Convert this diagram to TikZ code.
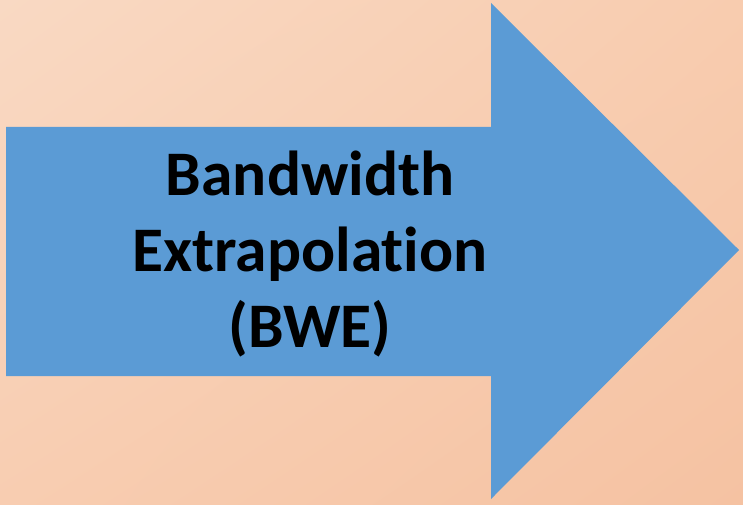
\documentclass[tikz,border=0pt]{standalone}
\usepackage{fontspec}
\setmainfont{Carlito}[Ligatures={NoCommon,NoRequired}]
\usetikzlibrary{shadings}
\definecolor{arrowblue}{HTML}{5B9BD5}
\definecolor{bgUL}{HTML}{F9D9C3}
\definecolor{bgUR}{HTML}{F8CCAF}
\definecolor{bgLL}{HTML}{F8CDB1}
\definecolor{bgLR}{HTML}{F5C2A2}
\tikzset{
  bigarrow/.style={fill=arrowblue, draw=none},
  arrowlabel/.style={font=\fontsize{63.5}{76}\selectfont\bfseries, align=center, text=black, inner sep=0pt}
}
\begin{document}
\begin{tikzpicture}[x=1pt,y=-1pt]
\useasboundingbox (0,0) rectangle (743,505);
\shade[upper left=bgUL, upper right=bgUR, lower left=bgLL, lower right=bgLR] (0,0) rectangle (743,505);
\path[bigarrow] (6,127) -- (491,127) -- (491,3) -- (739,250) -- (491,499) -- (491,376) -- (6,376) -- cycle;
\node[arrowlabel] (label) at (310,254) {Bandwidth\\Extrapolation\\(BWE)};
\end{tikzpicture}
\end{document}
